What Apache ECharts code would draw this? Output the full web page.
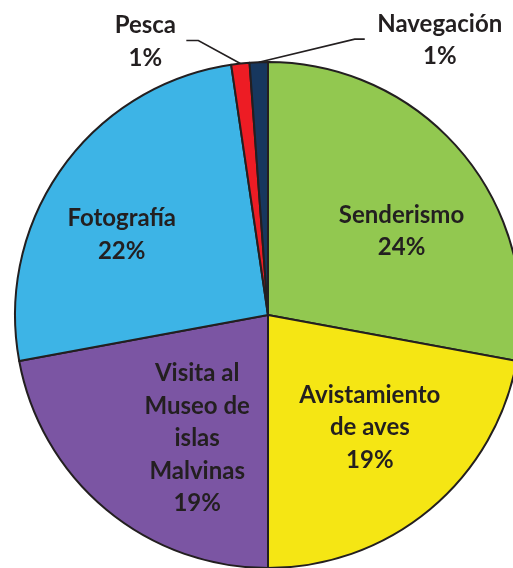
<!DOCTYPE html>
<html>
<head>
<meta charset="utf-8">
<script src="https://cdn.jsdelivr.net/npm/echarts@6/dist/echarts.min.js"></script>
<style>
html,body{margin:0;padding:0;background:#fff;}
#chart{width:513px;height:568px;}
</style>
</head>
<body>
<div id="chart"></div>
<script>
const categories = ['Senderismo', 'Avistamiento\nde aves', 'Visita al\nMuseo de\nislas\nMalvinas', 'Fotografía', 'Pesca', 'Navegación'];
const values = [24, 19, 19, 22, 1, 1];
const percentLabels = ['24%', '19%', '19%', '22%', '1%', '1%'];

const colors = ['#92c850', '#f5e614', '#7b55a3', '#3db4e6', '#ed1c24', '#17375e'];
const insideNudge = [[34, -1], [19, 13], [12, 24], [-41, -5]];
const textColor = '#231f20';

const chart = echarts.init(document.getElementById('chart'), null, {renderer: 'canvas'});

const data = categories.map((c, i) => {
  const outside = i >= 4;
  return {
    name: c,
    value: values[i],
    itemStyle: {color: colors[i]},
    label: {
      show: true,
      position: outside ? 'outside' : 'inside',
      formatter: c + '\n' + percentLabels[i]
    },
    labelLine: {show: outside}
  };
});

chart.setOption({
  animation: false,
  series: [{
    type: 'pie',
    center: [268, 315],
    radius: 253,
    startAngle: 90,
    clockwise: true,
    avoidLabelOverlap: false,
    itemStyle: {borderColor: textColor, borderWidth: 2},
    label: {
      color: textColor,
      fontFamily: 'Lato',
      fontWeight: 'bold',
      fontSize: 24,
      lineHeight: 32.5,
      align: 'center'
    },
    labelLine: {
      lineStyle: {color: textColor, width: 1.6},
      length: 20,
      length2: 10
    },
    labelLayout: function (p) {
      const i = p.dataIndex;
      if (i < 4) {
        return {dx: insideNudge[i][0], dy: insideNudge[i][1]};
      }
      const p0 = p.labelLinePoints[0];
      if (i === 4) {
        const elbow = [p0[0] - 42, p0[1] - 23];
        const end = [elbow[0] - 12, elbow[1]];
        return {
          x: end[0] - 41, y: end[1] + 1,
          align: 'center', verticalAlign: 'middle',
          labelLinePoints: [p0, elbow, end]
        };
      }
      const elbow = [p0[0] + 96, p0[1] - 23];
      const end = [elbow[0] + 10, elbow[1]];
      return {
        x: end[0] + 75, y: end[1] + 1,
        align: 'center', verticalAlign: 'middle',
        labelLinePoints: [p0, elbow, end]
      };
    },
    data: data
  }]
});
</script>
</body>
</html>
